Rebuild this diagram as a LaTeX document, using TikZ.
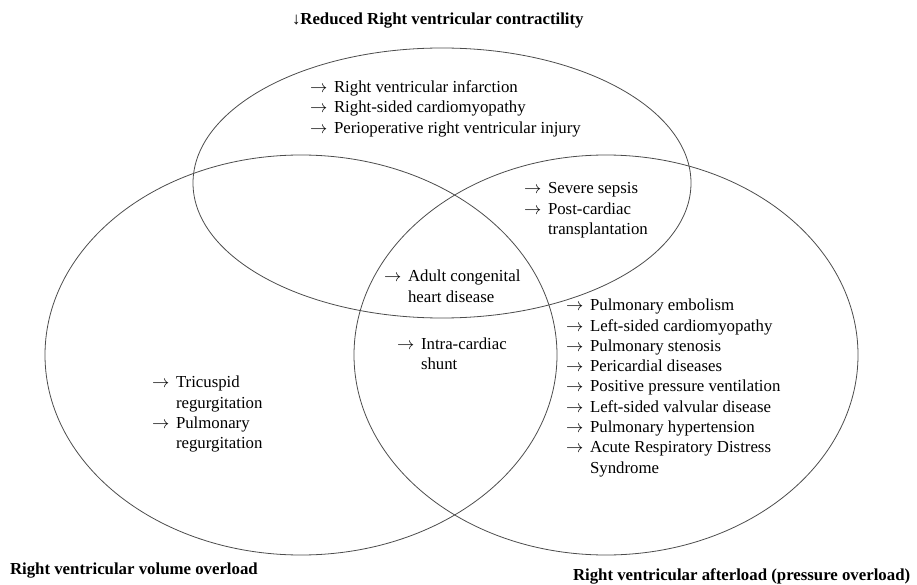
\documentclass[tikz,border=0pt]{standalone}
\usepackage{fontspec}
\setmainfont{Liberation Serif}
\usepackage{array}
\newcommand\arr{$\rightarrow$}
\newenvironment{clist}{\fontsize{16.8}{20.3}\selectfont\begin{tabular}[t]{@{}p{24pt}@{}l@{}}}{\end{tabular}}
\begin{document}
\begin{tikzpicture}[x=1pt,y=-1pt,
  venn/.style={draw=black!70, line width=0.8pt},
  listtxt/.style={anchor=base west, inner sep=0pt, outer sep=0pt, text=black},
  ttl/.style={anchor=base west, inner sep=0pt, outer sep=0pt, font=\fontsize{16.8}{20}\selectfont\bfseries}]
\useasboundingbox (0,0) rectangle (917,585);
% ellipses
\draw[venn] (442,183) ellipse [x radius=249pt, y radius=135pt];
\draw[venn] (301,355) ellipse [x radius=256pt, y radius=200pt];
\draw[venn] (606,355) ellipse [x radius=252pt, y radius=200pt];
% titles
\node[ttl] (tcontr) at (292,25) {↓Reduced Right ventricular contractility};
\node[ttl] (tvol) at (10,574) {Right ventricular volume overload};
\node[ttl] (tafter) at (573,580) {Right ventricular afterload (pressure overload)};
% lists
\node[listtxt] (lcontr) at (310,92.7) {\begin{clist}
\arr & Right ventricular infarction\\
\arr & Right-sided cardiomyopathy\\
\arr & Perioperative right ventricular injury
\end{clist}};
\node[listtxt] (lsepsis) at (524,194) {\begin{clist}
\arr & Severe sepsis\\
\arr & Post-cardiac\\
 & transplantation
\end{clist}};
\node[listtxt] (lachd) at (384,281.7) {\begin{clist}
\arr & Adult congenital\\
 & heart disease
\end{clist}};
\node[listtxt] (lshunt) at (397,349.3) {\begin{clist}
\arr & Intra-cardiac\\
 & shunt
\end{clist}};
\node[listtxt] (lvol) at (152,387.7) {\begin{clist}
\arr & Tricuspid\\
 & regurgitation\\
\arr & Pulmonary\\
 & regurgitation
\end{clist}};
\node[listtxt] (lafter) at (566,310.7) {\begin{clist}
\arr & Pulmonary embolism\\
\arr & Left-sided cardiomyopathy\\
\arr & Pulmonary stenosis\\
\arr & Pericardial diseases\\
\arr & Positive pressure ventilation\\
\arr & Left-sided valvular disease\\
\arr & Pulmonary hypertension\\
\arr & Acute Respiratory Distress\\
 & Syndrome
\end{clist}};
\end{tikzpicture}
\end{document}
